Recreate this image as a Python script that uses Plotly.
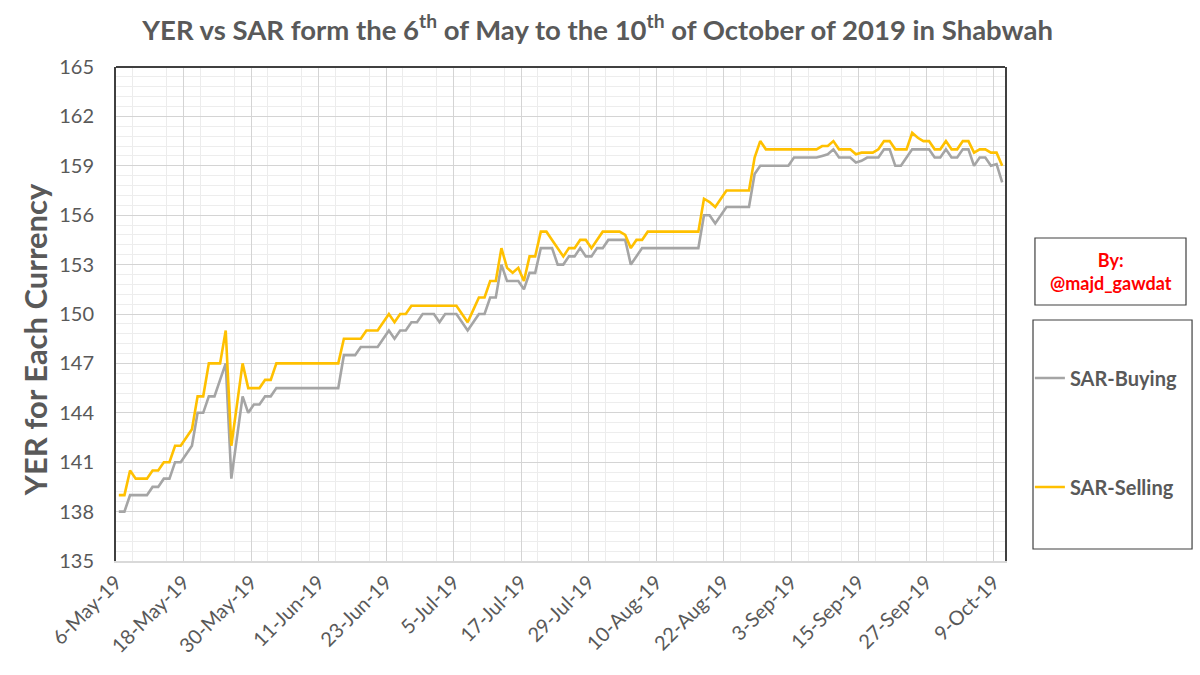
import pandas as pd
import plotly.graph_objects as go

start_date = "2019-05-06"
end_date = "2019-10-10"

sar_buying = [
    138, 138, 139, 139, 139, 139, 139.5, 139.5, 140, 140,
    141, 141, 141.5, 142, 144, 144, 145, 145, 146, 147,
    140, 142.5, 145, 144, 144.5, 144.5, 145, 145, 145.5, 145.5,
    145.5, 145.5, 145.5, 145.5, 145.5, 145.5, 145.5, 145.5, 145.5, 145.5,
    147.5, 147.5, 147.5, 148, 148, 148, 148, 148.5, 149, 148.5,
    149, 149, 149.5, 149.5, 150, 150, 150, 149.5, 150, 150,
    150, 149.5, 149, 149.5, 150, 150, 151, 151, 153, 152,
    152, 152, 151.5, 152.5, 152.5, 154, 154, 154, 153, 153,
    153.5, 153.5, 154, 153.5, 153.5, 154, 154, 154.5, 154.5, 154.5,
    154.5, 153, 153.5, 154, 154, 154, 154, 154, 154, 154,
    154, 154, 154, 154, 156, 156, 155.5, 156, 156.5, 156.5,
    156.5, 156.5, 156.5, 158.5, 159, 159, 159, 159, 159, 159,
    159.5, 159.5, 159.5, 159.5, 159.5, 159.6, 159.7, 160, 159.5, 159.5,
    159.5, 159.2, 159.3, 159.5, 159.5, 159.5, 160, 160, 159, 159,
    159.5, 160, 160, 160, 160, 159.5, 159.5, 160, 159.5, 159.5,
    160, 160, 159, 159.5, 159.5, 159, 159.1, 158,
]

sar_selling = [
    139, 139, 140.5, 140, 140, 140, 140.5, 140.5, 141, 141,
    142, 142, 142.5, 143, 145, 145, 147, 147, 147, 149,
    142, 144.5, 147, 145.5, 145.5, 145.5, 146, 146, 147, 147,
    147, 147, 147, 147, 147, 147, 147, 147, 147, 147,
    148.5, 148.5, 148.5, 148.5, 149, 149, 149, 149.5, 150, 149.5,
    150, 150, 150.5, 150.5, 150.5, 150.5, 150.5, 150.5, 150.5, 150.5,
    150.5, 150, 149.5, 150.25, 151, 151, 152, 152, 154, 152.8,
    152.5, 152.8, 152, 153.5, 153.5, 155, 155, 154.5, 154, 153.5,
    154, 154, 154.5, 154.5, 154, 154.5, 155, 155, 155, 155,
    154.8, 154, 154.5, 154.5, 155, 155, 155, 155, 155, 155,
    155, 155, 155, 155, 157, 156.8, 156.5, 157, 157.5, 157.5,
    157.5, 157.5, 157.5, 159.5, 160.5, 160, 160, 160, 160, 160,
    160, 160, 160, 160, 160, 160.2, 160.2, 160.5, 160, 160,
    160, 159.7, 159.8, 159.8, 159.8, 160, 160.5, 160.5, 160, 160,
    160, 161, 160.7, 160.5, 160.5, 160, 160, 160.5, 160, 160,
    160.5, 160.5, 159.8, 160, 160, 159.8, 159.8, 159,
]

dates = pd.date_range(start_date, end_date, freq="D")
# Excel-style date axis: each day's point sits in the middle of its day slot
x_pos = dates + pd.Timedelta(hours=12)

TEXT = "#595959"
FONT = "Lato"

fig = go.Figure()
fig.add_trace(go.Scatter(
    x=x_pos, y=sar_buying, mode="lines", name="<b>SAR-Buying</b>",
    line=dict(color="#a5a5a5", width=2.6), legendgroup="b",
))
fig.add_trace(go.Scatter(
    x=x_pos, y=sar_selling, mode="lines", name="<b>SAR-Selling</b>",
    line=dict(color="#ffc000", width=2.6), legendgroup="s",
))

fig.update_layout(
    width=1200, height=675,
    paper_bgcolor="white", plot_bgcolor="white",
    margin=dict(l=116, r=195, t=67, b=114),
    font=dict(family=FONT, color=TEXT),
    title=dict(
        text="<b>YER vs SAR form the 6<sup>th</sup> of May to the 10<sup>th</sup> of October of 2019 in Shabwah</b>",
        x=0.498, xref="container", xanchor="center", y=0.955, yanchor="middle",
        font=dict(family=FONT, size=27.5, color=TEXT),
    ),
    showlegend=True,
    legend=dict(
        x=1.028, y=0.41, xanchor="left", yanchor="top",
        bgcolor="rgba(0,0,0,0)", borderwidth=0,
        font=dict(family=FONT, size=20, color=TEXT),
        tracegroupgap=80, itemwidth=30,
    ),
)

fig.update_xaxes(
    type="date",
    range=["2019-05-06", "2019-10-11"],
    tick0="2019-05-06", dtick=12 * 86400000,
    tickformat="%-d-%b-%y", tickangle=-45,
    tickfont=dict(family=FONT, size=20, color=TEXT),
    showgrid=True, gridcolor="#d4d4d4", gridwidth=1,
    minor=dict(dtick=6 * 86400000, showgrid=True, gridcolor="#ececec", gridwidth=1),
    showline=True, linecolor="#d9d9d9", linewidth=1.5,
    ticks="", zeroline=False,
)
fig.update_yaxes(
    range=[135, 165], dtick=3, tick0=135,
    tickfont=dict(family=FONT, size=20, color=TEXT),
    ticklabelstandoff=16,
    showgrid=True, gridcolor="#d4d4d4", gridwidth=1,
    minor=dict(dtick=0.6, showgrid=True, gridcolor="#ededed", gridwidth=1),
    showline=True, linecolor="#404040", linewidth=2, mirror=True,
    ticks="", zeroline=False,
)

# y-axis title (placed as in the reference, slightly below the axis centre)
fig.add_annotation(
    x=-0.0911, y=0.447, xref="paper", yref="paper", showarrow=False,
    xanchor="center", yanchor="middle", textangle=-90,
    text="<b>YER for Each Currency</b>",
    font=dict(family=FONT, size=31, color=TEXT),
)

# top border of plot area
fig.add_shape(type="line", xref="paper", yref="paper", x0=0, x1=1, y0=1, y1=1,
              line=dict(color="#404040", width=2))

# legend frame
fig.add_shape(type="rect", xref="paper", yref="paper",
              x0=1.0315, x1=1.2104, y0=0.0243, y1=0.4879,
              line=dict(color="#404040", width=1.2), fillcolor="rgba(0,0,0,0)")

# attribution box
fig.add_shape(type="rect", xref="paper", yref="paper",
              x0=1.0337, x1=1.2036, y0=0.5182, y1=0.6538,
              line=dict(color="#404040", width=1.2), fillcolor="white")
fig.add_annotation(
    x=1.1187, y=0.586, xref="paper", yref="paper", showarrow=False,
    xanchor="center", yanchor="middle",
    text="<b>By:<br>@majd_gawdat</b>", align="center",
    font=dict(family=FONT, size=18, color="#ff0000"),
)

fig.write_html("out.html", config={"displayModeBar": False},
               post_script="document.body.style.margin='0px';")
